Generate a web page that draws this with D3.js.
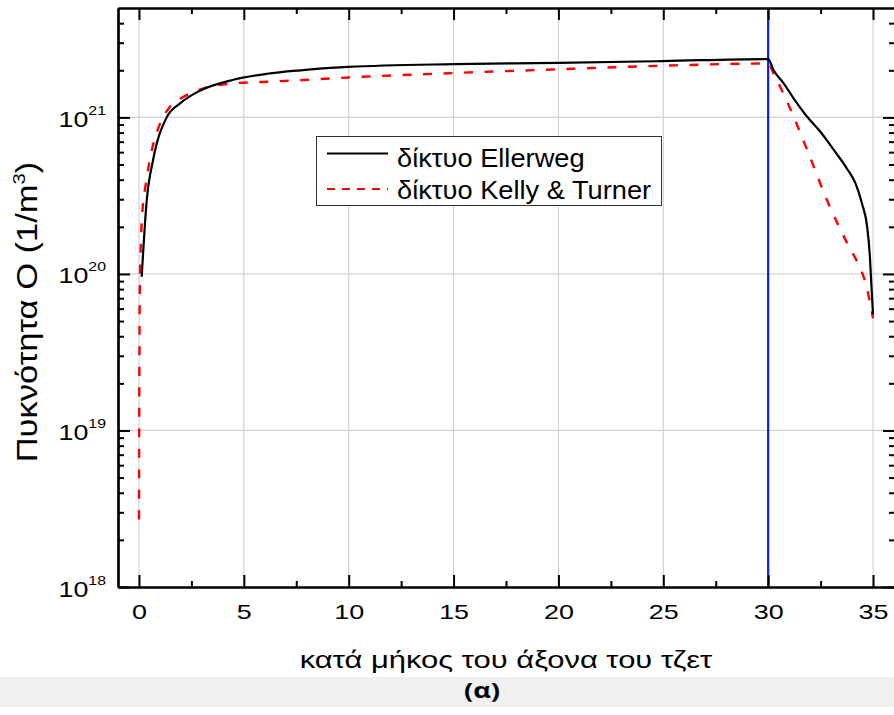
<!DOCTYPE html>
<html>
<head>
<meta charset="utf-8">
<script src="https://cdn.jsdelivr.net/npm/d3@7/dist/d3.min.js"></script>
<style>
  html, body { margin: 0; padding: 0; background: #fff; }
  svg { display: block; }
  text { font-family: "Liberation Sans", Arial, sans-serif; fill: #000; }
</style>
</head>
<body>
<svg id="chart" width="894" height="715"></svg>
<script>
// O density along the jet axis for two reaction networks
const ellerwegX = [0.13, 0.37, 0.68, 1.32, 1.96, 2.9, 4.5, 6.1, 7.7, 10, 15, 20, 25, 30,
                   30.26, 30.74, 31.22, 31.86, 32.49, 33.13, 33.76, 34.16, 34.48, 34.72, 34.85, 34.91, 35.0];
const ellerwegY = [9.6e19, 2.95e20, 5.4e20, 1.0e21, 1.23e21, 1.48e21, 1.74e21, 1.9e21, 2.0e21, 2.1e21, 2.19e21, 2.23e21, 2.29e21, 2.36e21,
                   2.0e21, 1.65e21, 1.32e21, 1.01e21, 8.1e20, 6.2e20, 4.7e20, 3.8e20, 2.8e20, 2.0e20, 1.29e20, 9.1e19, 5.5e19];

const kellyX = [0.0, 0.01, 0.05, 0.19, 0.29, 0.52, 1.0, 1.48, 2.11, 3.07, 4.5, 6.1, 7.7, 10, 15, 20, 25, 30,
                30.26, 30.74, 31.86, 32.81, 33.76, 34.3, 34.64, 35.0];
const kellyY = [2.7e18, 1.0e19, 1.0e20, 2.8e20, 3.5e20, 5.4e20, 9.1e20, 1.17e21, 1.35e21, 1.53e21, 1.65e21, 1.69e21, 1.73e21, 1.8e21, 1.92e21, 2.03e21, 2.14e21, 2.21e21,
                1.9e21, 1.41e21, 6.2e20, 2.95e20, 1.58e20, 1.15e20, 8.8e19, 5.2e19];

const seriesNames = ["δίκτυο Ellerweg", "δίκτυο Kelly & Turner"];
const seriesColors = ["#000000", "#ff0000"];

const xMajorTicks = [0, 5, 10, 15, 20, 25, 30, 35];
const xMinorTicks = [2.5, 7.5, 12.5, 17.5, 22.5, 27.5, 32.5];
const yDecadeExponents = [18, 19, 20, 21];
const markerPosition = 30;

const xTitle = "κατά μήκος του άξονα του τζετ";
const yTitleMain = "Πυκνότητα Ο (1/m";
const yTitleSup = "3";
const yTitleTail = ")";
const caption = "(α)";

// ---------------------------------------------------------------
const W = 894, H = 715;
const plot = { left: 118, right: 894, top: 8, bottom: 587 };
const SX = 1.28;               // horizontal stretch of the tick lettering
const svg = d3.select("#chart");

const x = d3.scaleLinear().domain([-1, 36]).range([plot.left, plot.right]);
const y = d3.scaleLog().domain([1e18, 5e21]).range([plot.bottom, plot.top]);

const yMajor = yDecadeExponents.map(e => Math.pow(10, e));
const yMinor = [];
yDecadeExponents.forEach(e => {
  for (let m = 2; m <= 9; m++) {
    const v = m * Math.pow(10, e);
    if (v < 5e21) yMinor.push(v);
  }
});

svg.append("rect").attr("width", W).attr("height", H).attr("fill", "#fff");

svg.append("defs").append("clipPath").attr("id", "plotClip")
  .append("rect")
  .attr("x", plot.left).attr("y", plot.top)
  .attr("width", plot.right - plot.left).attr("height", plot.bottom - plot.top);

// grid
const grid = svg.append("g").attr("stroke", "#d2d2d2").attr("stroke-width", 1.2);
grid.selectAll("line.gx").data(xMajorTicks).join("line")
  .attr("x1", d => x(d)).attr("x2", d => x(d))
  .attr("y1", plot.top).attr("y2", plot.bottom);
grid.selectAll("line.gy").data(yMajor.slice(1)).join("line")
  .attr("x1", plot.left).attr("x2", plot.right)
  .attr("y1", d => y(d)).attr("y2", d => y(d));

// vertical marker at the nozzle exit
svg.append("line")
  .attr("x1", x(markerPosition)).attr("x2", x(markerPosition))
  .attr("y1", plot.top).attr("y2", plot.bottom)
  .attr("stroke", "#0a1ef0").attr("stroke-width", 2.2);

// curves
const lineGen = d3.line().x(d => x(d[0])).y(d => y(d[1])).curve(d3.curveMonotoneX);
const curves = svg.append("g").attr("clip-path", "url(#plotClip)").attr("fill", "none");

curves.append("path")
  .attr("d", lineGen(kellyX.map((v, i) => [v, kellyY[i]])))
  .attr("stroke", seriesColors[1]).attr("stroke-width", 2.4)
  .attr("stroke-dasharray", "9,11.5");

curves.append("path")
  .attr("d", lineGen(ellerwegX.map((v, i) => [v, ellerwegY[i]])))
  .attr("stroke", seriesColors[0]).attr("stroke-width", 2.2);

// axes: ticks point into the plot
function styleAxis(g) {
  g.select(".domain").attr("stroke", "#000").attr("stroke-width", 2.2);
  g.selectAll(".tick line").attr("stroke", "#000").attr("stroke-width", 2);
}

const xBottom = svg.append("g").attr("transform", `translate(0,${plot.bottom})`)
  .call(d3.axisBottom(x).tickValues(xMajorTicks).tickSizeInner(-12).tickSizeOuter(0).tickPadding(20).tickFormat(d3.format("d")));
styleAxis(xBottom);
xBottom.selectAll(".tick text")
  .attr("font-size", 21).attr("fill", "#000").attr("y", 0).attr("dy", null)
  .attr("transform", `translate(0,32) scale(${SX},1)`);

svg.append("g").attr("transform", `translate(0,${plot.bottom})`)
  .call(d3.axisBottom(x).tickValues(xMinorTicks).tickSizeInner(-6).tickSizeOuter(0).tickFormat(""))
  .call(styleAxis);

svg.append("g").attr("transform", `translate(0,${plot.top})`)
  .call(d3.axisTop(x).tickValues(xMajorTicks).tickSizeInner(-12).tickSizeOuter(0).tickFormat(""))
  .call(styleAxis);
svg.append("g").attr("transform", `translate(0,${plot.top})`)
  .call(d3.axisTop(x).tickValues(xMinorTicks).tickSizeInner(-6).tickSizeOuter(0).tickFormat(""))
  .call(styleAxis);

svg.append("g").attr("transform", `translate(${plot.left},0)`)
  .call(d3.axisLeft(y).tickValues(yMajor).tickSizeInner(-12).tickSizeOuter(0).tickFormat(""))
  .call(styleAxis);
svg.append("g").attr("transform", `translate(${plot.left},0)`)
  .call(d3.axisLeft(y).tickValues(yMinor).tickSizeInner(-6).tickSizeOuter(0).tickFormat(""))
  .call(styleAxis);

svg.append("g").attr("transform", `translate(${plot.right + 1},0)`)
  .call(d3.axisRight(y).tickValues(yMajor).tickSizeInner(-12).tickSizeOuter(0).tickFormat(""))
  .call(styleAxis);
svg.append("g").attr("transform", `translate(${plot.right + 1},0)`)
  .call(d3.axisRight(y).tickValues(yMinor).tickSizeInner(-6).tickSizeOuter(0).tickFormat(""))
  .call(styleAxis);

// decade labels 10^n
const yLab = svg.append("g").selectAll("text").data(yDecadeExponents).join("text")
  .attr("text-anchor", "end")
  .attr("font-size", 22)
  .attr("transform", d => `translate(${plot.left - 12},${y(Math.pow(10, d)) + 9.5}) scale(1.22,1)`);
yLab.append("tspan").text("10");
yLab.append("tspan").attr("dy", -12).attr("font-size", 13).text(d => d);

// axis titles
svg.append("text")
  .attr("text-anchor", "middle").attr("font-size", 24)
  .attr("transform", `translate(${(plot.left + plot.right) / 2},668) scale(1.29,1)`)
  .text(xTitle);

const yt = svg.append("text")
  .attr("text-anchor", "middle").attr("font-size", 29)
  .attr("transform", `translate(37,312) rotate(-90) scale(1.19,1)`);
yt.append("tspan").text(yTitleMain);
yt.append("tspan").attr("dy", -12).attr("font-size", 17).text(yTitleSup);
yt.append("tspan").attr("dy", 12).text(yTitleTail);

// legend
const legend = svg.append("g");
legend.append("rect")
  .attr("x", 316.5).attr("y", 136.5).attr("width", 345).attr("height", 69)
  .attr("fill", "#fff").attr("stroke", "#333").attr("stroke-width", 1);
const legendRows = [
  { name: seriesNames[0], color: seriesColors[0], dash: null, lineY: 153.5, textY: 166.5 },
  { name: seriesNames[1], color: seriesColors[1], dash: "8,7", lineY: 189, textY: 198.5 }
];
legendRows.forEach(r => {
  legend.append("line")
    .attr("x1", 327).attr("x2", 388).attr("y1", r.lineY).attr("y2", r.lineY)
    .attr("stroke", r.color).attr("stroke-width", 2.2)
    .attr("stroke-dasharray", r.dash);
  legend.append("text")
    .attr("font-size", 25)
    .attr("transform", `translate(397,${r.textY}) scale(1.09,1)`)
    .text(r.name);
});

// caption band
svg.append("rect").attr("x", 0).attr("y", 677).attr("width", W).attr("height", 30).attr("fill", "#f0f0f0");
svg.append("text")
  .attr("text-anchor", "middle").attr("font-size", 21).attr("font-weight", "bold")
  .style("font-family", "'Open Sans', 'Noto Sans', sans-serif")
  .attr("transform", `translate(482,698) scale(1.3,1)`)
  .text(caption);
</script>
</body>
</html>
